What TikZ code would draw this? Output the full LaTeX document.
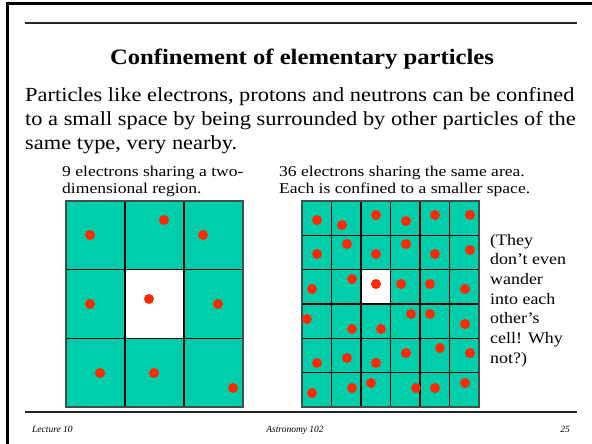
\documentclass[tikz,border=0pt]{standalone}
\usepackage{fontspec}
\setmainfont{Liberation Serif}
\newfontfamily\bodyfont[FakeStretch=1.12]{Liberation Serif}
\newfontfamily\capfont[FakeStretch=1.17]{Liberation Serif}
\definecolor{cellteal}{RGB}{0,206,170}
\definecolor{dotred}{RGB}{255,40,0}
\definecolor{edgegray}{RGB}{60,80,75}
\tikzset{
  txt/.style={inner sep=0pt, anchor=base west},
  body/.style={txt, font=\bodyfont\fontsize{20}{24}\selectfont},
  captext/.style={txt, font=\capfont\fontsize{15}{17}\selectfont},
  side/.style={txt, font=\bodyfont\fontsize{16}{19}\selectfont},
  foot/.style={inner sep=0pt, anchor=base, font=\fontsize{9.5}{11}\itshape},
  hrule/.style={line width=1.3pt, black!85},
  dot/.style={fill=dotred},
  cellfill/.style={fill=cellteal},
  gridline/.style={line width=1.2pt, black},
  gridedge/.style={line width=1.2pt, edgegray}
}
\begin{document}
\begin{tikzpicture}[x=1pt,y=-1pt]
\useasboundingbox (0,0) rectangle (592,444);
\fill[white] (0,0) rectangle (592,444);
\draw[line width=3pt] (7,444) -- (7,4) -- (592,4);
\draw[hrule] (25,23) -- (577,23);
\draw[hrule] (25,412) -- (577,412);

\node[inner sep=0pt, anchor=base, font=\bodyfont\fontsize{22}{26}\bfseries] (title) at (302,65) {Confinement of elementary particles};
\node[body] (b1) at (25,101) {Particles like electrons, protons and neutrons can be confined};
\node[body] (b2) at (25,125) {to a small space by being surrounded by other particles of the};
\node[body] (b3) at (25,149) {same type, very nearby.};

\node[captext] (c1a) at (62,176) {9 electrons sharing a two-};
\node[captext] (c1b) at (62,193) {dimensional region.};
\node[captext] (c2a) at (279,176) {36 electrons sharing the same area.};
\node[captext] (c2b) at (279,193) {Each is confined to a smaller space.};

% grid 1
\foreach \i in {0,1,2} \foreach \j in {0,1,2}
  \fill[cellfill] ({66+\i*59},{201+\j*68.667}) rectangle ++(59,68.667);
\fill[white] (125,269.667) rectangle (184,338.333);
\foreach \k in {1,2} {
  \draw[gridline] ({66+\k*59},201) -- ({66+\k*59},407);
  \draw[gridline] (66,{201+\k*68.667}) -- (243,{201+\k*68.667});
}
\draw[gridedge] (66,201) rectangle (243,407);
\foreach \p in {(90,235),(164,220),(203,235),(90,304),(149,299),(218,304),(100,373),(154,373),(233,388)}
  \fill[dot] \p circle (5);

% grid 2
\foreach \i in {0,...,5} \foreach \j in {0,...,5}
  \fill[cellfill] ({302+\i*29.5},{201+\j*34.333}) rectangle ++(29.5,34.333);
\fill[white] (361,269.667) rectangle (390.5,304);
\foreach \k in {1,...,5} {
  \draw[gridline] ({302+\k*29.5},201) -- ({302+\k*29.5},407);
  \draw[gridline] (302,{201+\k*34.333}) -- (479,{201+\k*34.333});
}
\draw[gridedge] (302,201) rectangle (479,407);
\foreach \p in {(317,220),(342,225),(376,215),(406,221),(435,215),(470,215),
                (317,254),(347,244),(376,254),(406,244),(435,254),(470,250),
                (312,289),(352,279),(376,284),(401,284),(430,284),(465,289),
                (307,319),(352,329),(381,329),(411,314),(430,314),(465,324),
                (317,363),(347,358),(376,363),(406,353),(440,348),(470,353),
                (312,393),(352,388),(371,383),(416,388),(435,388),(465,383)}
  \fill[dot] \p circle (5);

\node[side] (s1) at (490,245) {(They};
\node[side] (s2) at (490,264.7) {don’t even};
\node[side] (s3) at (490,284.4) {wander};
\node[side] (s4) at (490,304.1) {into each};
\node[side] (s5) at (490,323.8) {other’s};
\node[side] (s6) at (490,343.5) {cell! Why};
\node[side] (s7) at (490,363.2) {not?)};

\node[foot, anchor=base west] (f1) at (32,432) {Lecture 10};
\node[foot] (f2) at (295,432) {Astronomy 102};
\node[foot, anchor=base east] (f3) at (570,432) {25};
\end{tikzpicture}
\end{document}
